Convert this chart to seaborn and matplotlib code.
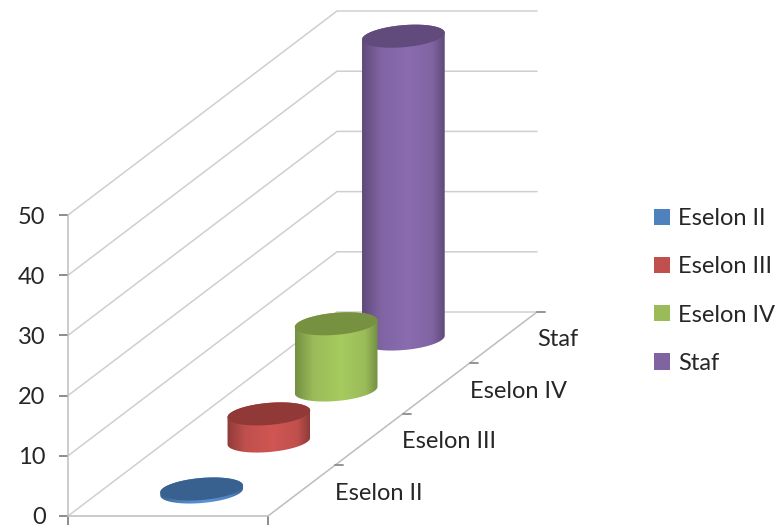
import numpy as np
import pandas as pd
import matplotlib
matplotlib.use("Agg")
import matplotlib.pyplot as plt
from matplotlib.colors import LinearSegmentedColormap
from matplotlib.patches import Patch, Polygon
import seaborn as sns

categories = ["Eselon II", "Eselon III", "Eselon IV", "Staf"]
values = [0.5, 4.5, 11, 50.3]
value_ticks = [0, 10, 20, 30, 40, 50]
base_colors = ["#4F81BD", "#C0504D", "#9BBB59", "#8064A2"]
light_colors = ["#5B93D8", "#CF5653", "#A6CB5E", "#8A6CB0"]
edge_colors = ["#3A6192", "#8F3B39", "#738F42", "#5F4A7A"]
cap_colors = ["#38618F", "#903936", "#76913F", "#604B7C"]

W, H = 781, 531
PX_X = 67.25          # pixels per category step in depth
PX_Y = 6.02           # pixels per value unit
X0_PX, Y0_PX = 168, 516
LIFT = 51 / PX_Y      # value-units of upward shift per category step
SPAN = 100 / PX_X     # half floor width in x units
A_PX, B_PX, TILT = 41.5, 11.0, np.radians(5)
FS = 17

sns.set_theme(style="white")
plt.rcParams["font.family"] = ["Lato", "DejaVu Sans"]
TXT = "#262626"
GRID = "#cfcfcf"
AXC = "#bdbdbd"

fig = plt.figure(figsize=(W / 100, H / 100), dpi=100)
ax = fig.add_axes([0, 0, 1, 1])

df = pd.DataFrame({"depth": np.arange(len(categories)) + 0.5, "value": values, "cat": categories})
sns.barplot(data=df, x="depth", y="value", hue="cat", hue_order=categories, palette=base_colors,
            native_scale=True, dodge=False, width=2 * A_PX / PX_X, legend=False, ax=ax, zorder=1)
ax.set_xlabel("")
ax.set_ylabel("")
ax.patch.set_alpha(0)


def pt(depth, across, value):
    """floor position (depth in categories, across in x units) and value to data coords."""
    return across + depth, value + depth * LIFT


# walls
for v in value_ticks:
    a = pt(0, -SPAN, v)
    b = pt(len(categories), -SPAN, v)
    c = pt(len(categories), SPAN, v)
    ax.plot([a[0], b[0], c[0]], [a[1], b[1], c[1]], color=GRID, lw=1.1, zorder=0.5, solid_joinstyle="miter")

# floor right edge and its ticks, with labels
a = pt(0, SPAN, 0)
b = pt(len(categories), SPAN, 0)
ax.plot([a[0], b[0]], [a[1], b[1]], color=AXC, lw=1.1, zorder=0.6)
for k, name in enumerate(categories, start=1):
    p = pt(k, SPAN, 0)
    ax.plot([p[0], p[0] + 8 / PX_X], [p[1], p[1]], color="#8c8c8c", lw=1.3, zorder=0.6)
    ax.text(p[0], p[1] - 28 / PX_Y, name, fontsize=FS, color=TXT, ha="left", va="center")

# real axes: value axis at the left-front edge, floor front edge
for s in ("top", "right"):
    ax.spines[s].set_visible(False)
ax.spines["left"].set_position(("data", -SPAN))
ax.spines["left"].set_bounds(0, value_ticks[-1])
ax.spines["bottom"].set_position(("data", 0))
ax.spines["bottom"].set_bounds(-SPAN, SPAN)
for s in ("left", "bottom"):
    ax.spines[s].set_color(AXC)
    ax.spines[s].set_linewidth(1.1)
ax.set_yticks(value_ticks)
ax.set_yticklabels([str(v) for v in value_ticks], fontsize=FS, color=TXT)
ax.set_xticks([-SPAN, SPAN])
ax.set_xticklabels(["", ""])
ax.tick_params(axis="both", direction="out", length=6.2, width=1.4, color="#8c8c8c", pad=10,
               left=True, bottom=True)


def ellipse(cx, cv, t):
    dx = A_PX * np.cos(t) * np.cos(TILT) - B_PX * np.sin(t) * np.sin(TILT)
    dy = A_PX * np.cos(t) * np.sin(TILT) + B_PX * np.sin(t) * np.cos(TILT)
    return cx + dx / PX_X, cv + dy / PX_Y


t_right = np.arctan2(-B_PX * np.sin(TILT), A_PX * np.cos(TILT))
t_up = np.linspace(t_right, t_right + np.pi, 80)
t_down = np.linspace(t_right + np.pi, t_right + 2 * np.pi, 80)
t_all = np.linspace(0, 2 * np.pi, 160)

grad = np.linspace(0, 1, 256).reshape(1, -1)
for i, (bar, base_c, light, edge, cap) in enumerate(
        zip(ax.patches, base_colors, light_colors, edge_colors, cap_colors)):
    cx = bar.get_x() + bar.get_width() / 2
    val = bar.get_height()
    bar.set_visible(False)
    base = cx * LIFT - 1.5 / PX_Y
    top = base + val
    z = 2 + (len(categories) - i)
    xb, yb = ellipse(cx, base, t_down)
    xt, yt = ellipse(cx, top, t_up)
    outline = np.column_stack([np.r_[xb, xt], np.r_[yb, yt]])
    side = Polygon(outline, closed=True, transform=ax.transData, facecolor="none", edgecolor="none")
    ax.add_patch(side)
    cmap = LinearSegmentedColormap.from_list(
        "c", [(0, edge), (0.22, base_c), (0.55, light), (0.85, base_c), (1, edge)])
    half = bar.get_width() / 2
    im = ax.imshow(grad, extent=[cx - half, cx + half, base - 3, top + 3], cmap=cmap, aspect="auto",
                   zorder=z, interpolation="bilinear", origin="lower")
    im.set_clip_path(side)
    xc, yc = ellipse(cx, top, t_all)
    ax.fill(xc, yc, color=cap, lw=0, zorder=z + 0.5)

ax.set_xlim(-X0_PX / PX_X, (W - X0_PX) / PX_X)
ax.set_ylim(-(H - Y0_PX) / PX_Y, Y0_PX / PX_Y)

handles = [Patch(facecolor=c, edgecolor="none") for c in base_colors]
fig.legend(handles, categories, loc="upper left", bbox_to_anchor=(654 / W, 1 - 208 / H), frameon=False,
           fontsize=FS, labelcolor=TXT, handlelength=0.68, handleheight=0.68, handletextpad=0.34,
           labelspacing=1.155, borderpad=0, borderaxespad=0)

fig.savefig("out.png", dpi=100)
